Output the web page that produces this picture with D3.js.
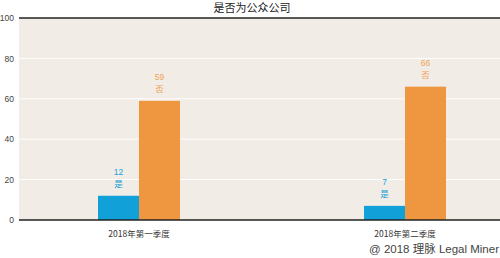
<!DOCTYPE html>
<html>
<head>
<meta charset="utf-8">
<script src="https://cdn.jsdelivr.net/npm/d3@7"></script>
<style>
  html, body { margin: 0; padding: 0; background: #fff; }
  svg { display: block; font-family: "Liberation Sans", "Noto Sans CJK SC", sans-serif; }
</style>
</head>
<body>
<svg id="chart" width="500" height="258"></svg>
<script>
// Quarterly count of companies, split by whether they are public companies
const categories = ["2018年第一季度", "2018年第二季度"];
const seriesNames = ["是", "否"];
const yesValues = [12, 7];
const noValues = [59, 66];
const yTicks = [0, 20, 40, 60, 80, 100];
const colors = ["#12a0d8", "#ee9640"];
const labelColors = ["#1aa0d8", "#f0a458"];

const svg = d3.select("#chart");
const plot = { left: 19, right: 500, top: 18, bottom: 220 };

const y = d3.scaleLinear().domain([0, 100]).range([plot.bottom, plot.top]);
const x = d3.scaleBand().domain(categories).range([6, 538]).paddingInner(0).paddingOuter(0);
const xs = d3.scaleBand().domain(seriesNames).range([0, 82]);

// Title
svg.append("text")
  .attr("x", 252).attr("y", 11.5)
  .attr("text-anchor", "middle")
  .attr("font-size", 11)
  .attr("fill", "#222")
  .attr("font-family", "Noto Sans CJK SC, sans-serif")
  .text("是否为公众公司");

// Plot background
svg.append("rect")
  .attr("x", plot.left).attr("y", plot.top)
  .attr("width", plot.right - plot.left).attr("height", plot.bottom - plot.top)
  .attr("fill", "#f1ece6");

// Gridlines
svg.append("g").selectAll("line")
  .data(yTicks.filter(d => d > 0 && d < 100))
  .join("line")
  .attr("x1", plot.left).attr("x2", plot.right)
  .attr("y1", d => y(d)).attr("y2", d => y(d))
  .attr("stroke", "#ffffff").attr("stroke-width", 1);

// Y axis labels
const yAxis = d3.axisLeft(y).tickValues(yTicks).tickSize(0).tickPadding(0);
const yg = svg.append("g").attr("transform", `translate(14,0)`).call(yAxis);
yg.select(".domain").remove();
yg.selectAll("text")
  .attr("font-size", 8.5)
  .attr("fill", "#444")
  .attr("font-family", "Liberation Sans, sans-serif");

// Bars
const groups = categories.map((c, i) => ({ cat: c, vals: [yesValues[i], noValues[i]] }));
const g = svg.append("g").selectAll("g")
  .data(groups)
  .join("g")
  .attr("transform", d => `translate(${x(d.cat) + x.bandwidth() / 2 - 41},0)`);

g.selectAll("rect")
  .data(d => d.vals.map((v, j) => ({ v, j })))
  .join("rect")
  .attr("x", d => xs(seriesNames[d.j]))
  .attr("width", xs.bandwidth())
  .attr("y", d => y(d.v))
  .attr("height", d => y(0) - y(d.v))
  .attr("fill", d => colors[d.j]);

// Value labels with series name
g.selectAll("text.num")
  .data(d => d.vals.map((v, j) => ({ v, j })))
  .join("text")
  .attr("class", "num")
  .attr("x", d => xs(seriesNames[d.j]) + xs.bandwidth() / 2)
  .attr("y", d => y(d.v) - 21)
  .attr("text-anchor", "middle")
  .attr("font-size", 8.5)
  .attr("fill", d => labelColors[d.j])
  .attr("font-family", "Liberation Sans, sans-serif")
  .text(d => d.v);

g.selectAll("text.name")
  .data(d => d.vals.map((v, j) => ({ v, j })))
  .join("text")
  .attr("class", "name")
  .attr("x", d => xs(seriesNames[d.j]) + xs.bandwidth() / 2)
  .attr("y", d => y(d.v) - 9)
  .attr("text-anchor", "middle")
  .attr("font-size", 8.5)
  .attr("fill", d => labelColors[d.j])
  .attr("font-family", "Noto Sans CJK SC, sans-serif")
  .text(d => seriesNames[d.j]);

// Top and baseline rules
svg.append("line")
  .attr("x1", plot.left).attr("x2", plot.right)
  .attr("y1", plot.top).attr("y2", plot.top)
  .attr("stroke", "#222").attr("stroke-width", 1.5);
svg.append("line")
  .attr("x1", plot.left).attr("x2", plot.right)
  .attr("y1", y(0)).attr("y2", y(0))
  .attr("stroke", "#222").attr("stroke-width", 1.5);

// Category labels
const xAxis = d3.axisBottom(x).tickSize(0).tickPadding(0);
const xg = svg.append("g").attr("transform", `translate(0,${y(0) + 17})`).call(xAxis);
xg.select(".domain").remove();
xg.selectAll("text")
  .attr("font-size", 8.5)
  .attr("fill", "#333")
  .attr("dy", "0")
  .attr("font-family", "Noto Sans CJK SC, sans-serif");

// Credit line
svg.append("text")
  .attr("x", 499).attr("y", 253)
  .attr("text-anchor", "end")
  .attr("font-size", 11.5)
  .attr("fill", "#444")
  .attr("font-family", "Liberation Sans, Noto Sans CJK SC, sans-serif")
  .text("@ 2018 理脉 Legal Miner");
</script>
</body>
</html>
